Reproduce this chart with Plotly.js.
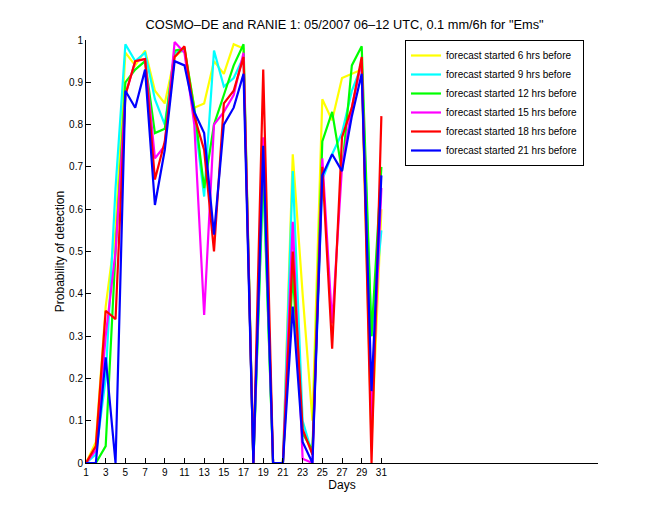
<!DOCTYPE html>
<html>
<head>
<meta charset="utf-8">
<script src="https://cdn.plot.ly/plotly-3.0.1.min.js"></script>
<style>html,body{margin:0;padding:0;background:#fff;}#chart{width:660px;height:520px;}</style>
</head>
<body>
<div id="chart"></div>
<script>
var days = [1,2,3,4,5,6,7,8,9,10,11,12,13,14,15,16,17,18,19,20,21,22,23,24,25,26,27,28,29,30,31];
var seriesNames = ["forecast started 6 hrs before","forecast started 9 hrs before","forecast started 12 hrs before","forecast started 15 hrs before","forecast started 18 hrs before","forecast started 21 hrs before"];
var pod6h  = [0,0.05,0.37,0.55,0.97,0.94,0.975,0.88,0.85,0.96,0.98,0.84,0.85,0.95,0.92,0.99,0.98,0,0.68,0,0,0.73,0.40,0.10,0.86,0.81,0.91,0.92,0.93,0.05,0.60];
var pod9h  = [0,0.02,0.20,0.65,0.99,0.95,0.97,0.86,0.80,0.97,0.975,0.82,0.63,0.975,0.89,0.91,0.96,0,0.68,0,0,0.69,0.10,0.02,0.67,0.73,0.78,0.88,0.94,0.30,0.55];
var pod12h = [0,0,0.04,0.50,0.90,0.93,0.95,0.78,0.79,0.975,0.98,0.84,0.65,0.80,0.87,0.94,0.99,0,0.70,0,0,0.45,0.07,0.03,0.76,0.83,0.69,0.94,0.985,0.30,0.70];
var pod15h = [0,0.03,0.30,0.50,0.87,0.95,0.955,0.72,0.75,0.995,0.97,0.80,0.35,0.80,0.83,0.87,0.97,0,0.77,0,0,0.57,0.01,0,0.72,0.33,0.70,0.84,0.95,0.10,0.65];
var pod18h = [0,0.04,0.36,0.34,0.87,0.95,0.955,0.67,0.76,0.96,0.985,0.82,0.74,0.50,0.85,0.88,0.96,0,0.93,0,0,0.50,0.08,0.02,0.70,0.27,0.77,0.84,0.96,0,0.82];
var pod21h = [0,0,0.25,0,0.88,0.84,0.93,0.61,0.74,0.95,0.94,0.83,0.78,0.54,0.80,0.84,0.92,0,0.75,0,0,0.37,0.05,0,0.68,0.73,0.69,0.82,0.92,0.17,0.68];
var colors = ["#ffff00","#00ffff","#00ff00","#ff00ff","#ff0000","#0000ff"];
var xTicks = [1,3,5,7,9,11,13,15,17,19,21,23,25,27,29,31];
var yTicks = [0,0.1,0.2,0.3,0.4,0.5,0.6,0.7,0.8,0.9,1];
var yTickText = ["0","0.1","0.2","0.3","0.4","0.5","0.6","0.7","0.8","0.9","1"];

var allSeries = [pod6h,pod9h,pod12h,pod15h,pod18h,pod21h];
var traces = allSeries.map(function(s,i){
  return {x: days, y: s, type: "scatter", mode: "lines", name: seriesNames[i],
          line: {color: colors[i], width: 2.2}};
});

var font = "Liberation Sans, Arial, Helvetica, sans-serif";
var layout = {
  width: 660, height: 520,
  paper_bgcolor: "#fff", plot_bgcolor: "#fff",
  margin: {l: 86, r: 62, t: 40, b: 57, pad: 0},
  font: {family: font, size: 10, color: "#000"},
  title: {text: 'COSMO\u2013DE and RANIE 1: 05/2007 06\u201312 UTC, 0.1 mm/6h for "Ems"',
          font: {family: font, size: 12.8, color: "#000"}, x: 0.522, xanchor: "center", y: 0.952, yanchor: "middle"},
  xaxis: {range: [1, 53], tickvals: xTicks, ticktext: xTicks.map(String), ticks: "inside", ticklen: 5,
          tickcolor: "#000", showline: true, linecolor: "#000", linewidth: 1, showgrid: false, zeroline: false,
          tickfont: {family: font, size: 10}, mirror: false,
          title: {text: "Days", font: {family: font, size: 12}, standoff: 3}},
  yaxis: {range: [0, 1], tickvals: yTicks, ticktext: yTickText, ticks: "inside", ticklen: 5,
          tickcolor: "#000", showline: true, linecolor: "#000", linewidth: 1, showgrid: false, zeroline: false,
          tickfont: {family: font, size: 10}, mirror: false,
          title: {text: "Probability of detection", font: {family: font, size: 12}, standoff: 1}},
  showlegend: true,
  legend: {x: 0.623, xanchor: "left", y: 1.0, yanchor: "top", bgcolor: "#fff", bordercolor: "#000", borderwidth: 1,
           font: {family: font, size: 10}, tracegroupgap: 0, itemwidth: 30},
};
Plotly.newPlot("chart", traces, layout, {displayModeBar: false, staticPlot: true});
</script>
</body>
</html>
